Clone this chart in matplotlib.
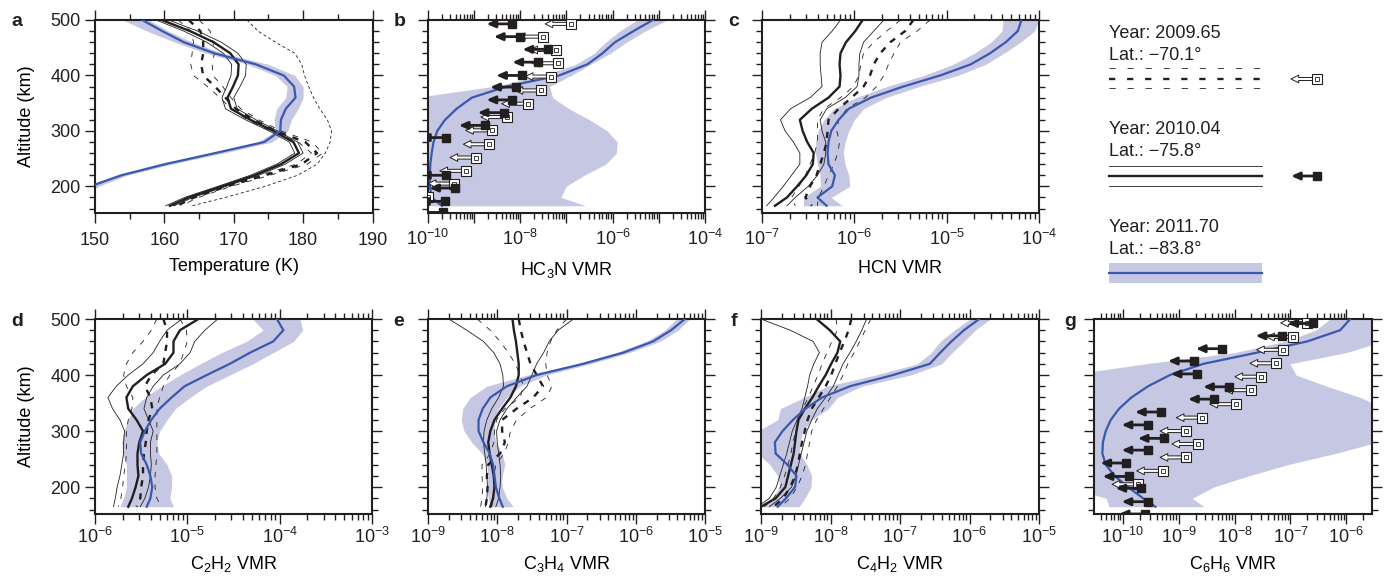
import numpy as np
import matplotlib
matplotlib.use("Agg")
import matplotlib.pyplot as plt
from matplotlib.patches import FancyArrowPatch
from matplotlib.ticker import MultipleLocator

INK = "#231f20"
BLUE = "#3a58ad"
BAND = "#c6c7e2"

plt.rcParams["font.family"] = ["Liberation Sans", "DejaVu Sans"]
plt.rcParams["mathtext.fontset"] = "custom"
plt.rcParams["mathtext.rm"] = "Liberation Sans"
plt.rcParams["mathtext.it"] = "Liberation Sans:italic"
plt.rcParams["mathtext.bf"] = "Liberation Sans:bold"
plt.rcParams["lines.scale_dashes"] = False
plt.rcParams["font.size"] = 13
plt.rcParams["text.color"] = INK

# altitude grid (km) shared by every profile
alt = [500, 480, 460, 440, 420, 400, 380, 360, 340, 320, 300, 280, 260, 240, 220, 200, 180, 165]

# a: temperature (K)
a_blue = [156.8, 159.7, 162.8, 167.2, 173.2, 177.2, 178.7, 178.9, 177.5, 176.8, 176.7, 174.4, 167.3, 160.1, 153.8, 149.3, 147.0, 145.0]
a_blue_lo = [154.0, 157.5, 161.5, 166.0, 172.0, 176.0, 177.7, 177.5, 176.2, 175.8, 176.0, 173.5, 166.5, 159.0, 153.0, 148.5, 146.0, 144.0]
a_blue_hi = [157.8, 160.6, 164.0, 168.5, 175.0, 178.8, 180.0, 180.0, 179.3, 178.3, 177.8, 175.5, 168.5, 161.0, 154.6, 150.5, 148.0, 146.0]
a_sol = [159.6, 163.7, 167.1, 169.5, 170.7, 170.6, 169.9, 169.1, 169.6, 172.4, 175.7, 178.6, 179.4, 176.8, 173.0, 168.3, 163.5, 160.8]
a_sol_lo = [158.8, 162.8, 166.1, 168.5, 169.7, 169.6, 169.0, 168.3, 168.8, 171.7, 175.1, 178.0, 178.8, 176.2, 172.4, 167.7, 162.9, 160.2]
a_sol_hi = [160.6, 164.8, 168.2, 170.6, 171.8, 171.7, 170.9, 170.0, 170.5, 173.2, 176.3, 179.2, 180.0, 177.4, 173.6, 168.9, 164.1, 161.4]
a_dash = [163.5, 165.2, 165.6, 165.6, 165.3, 165.6, 167.3, 168.8, 170.3, 172.8, 176.0, 180.3, 182.0, 179.8, 174.5, 169.0, 164.3, 161.8]
a_dash_lo = [162.0, 163.8, 164.2, 164.0, 163.8, 164.2, 166.2, 168.0, 169.6, 172.0, 175.2, 179.3, 181.2, 179.0, 173.8, 168.4, 163.7, 161.2]
a_dash_hi = [165.0, 166.6, 167.0, 167.2, 166.9, 167.0, 168.4, 169.6, 171.0, 173.6, 176.8, 181.3, 182.8, 180.6, 175.2, 169.6, 164.9, 162.4]
a_ref = [171.9, 173.5, 176.0, 178.8, 179.8, 180.2, 180.8, 181.5, 182.4, 183.5, 184.1, 183.9, 183.2, 182.0, 179.2, 174.5, 168.8, 164.0]

# b: HC3N, log10 VMR
b_blue = [-5.13, -5.55, -5.95, -6.22, -6.55, -7.16, -8.30, -9.05, -9.38, -9.63, -9.80, -9.88, -9.92, -9.95, -9.96, -9.96, -9.92, -9.70]
b_blue_lo = [-5.47, -5.85, -6.15, -6.40, -6.80, -7.50, -8.60, -10.3, -11.0, -11.0, -11.0, -11.0, -11.0, -11.0, -11.0, -11.0, -11.0, -11.0]
b_blue_hi = [-4.82, -5.30, -5.70, -6.05, -6.48, -6.90, -7.37, -7.30, -6.95, -6.50, -6.12, -5.90, -5.92, -6.15, -6.62, -7.01, -7.12, -6.58]
b_fill_alt = [493, 470, 447, 424, 400, 379, 356, 333, 310, 288, 220, 197, 173, 153]
b_fill_val = [-8.17, -8.01, -7.39, -7.61, -7.96, -8.09, -8.17, -8.36, -8.77, -9.61, -9.61, -9.41, -9.63, -9.68]
b_open_alt = [493, 470, 446, 422, 398, 373, 349, 325, 301, 276, 252, 228, 205, 181]
b_open_val = [-6.90, -7.50, -7.23, -7.18, -7.33, -7.55, -7.84, -8.29, -8.62, -8.67, -8.96, -9.18, -9.43, -9.99]

# c: HCN
c_blue = [-4.19, -4.23, -4.36, -4.53, -4.74, -5.07, -5.47, -5.82, -6.06, -6.17, -6.25, -6.28, -6.29, -6.28, -6.21, -6.24, -6.40, -6.30]
c_blue_lo = [-4.39, -4.40, -4.52, -4.70, -4.93, -5.25, -5.65, -5.98, -6.22, -6.33, -6.39, -6.42, -6.42, -6.40, -6.37, -6.37, -6.55, -6.55]
c_blue_hi = [-4.00, -4.05, -4.20, -4.38, -4.58, -4.88, -5.30, -5.66, -5.90, -6.00, -6.06, -6.10, -6.12, -6.10, -6.06, -6.05, -6.25, -6.13]
c_sol = [-5.91, -5.99, -6.09, -6.15, -6.16, -6.15, -6.16, -6.28, -6.46, -6.59, -6.56, -6.51, -6.44, -6.45, -6.52, -6.62, -6.73, -6.86]
c_sol_lo = [-6.15, -6.24, -6.35, -6.37, -6.37, -6.36, -6.35, -6.48, -6.69, -6.80, -6.75, -6.66, -6.59, -6.59, -6.68, -6.77, -6.87, -6.95]
c_sol_hi = [-5.68, -5.79, -5.90, -5.94, -5.95, -5.95, -5.97, -6.10, -6.30, -6.37, -6.35, -6.31, -6.31, -6.33, -6.40, -6.50, -6.64, -6.73]
c_dash = [-5.36, -5.45, -5.61, -5.72, -5.79, -5.83, -5.90, -6.03, -6.17, -6.28, -6.29, -6.30, -6.33, -6.37, -6.41, -6.48, -6.53, -6.46]
c_dash_lo = [-5.50, -5.65, -5.79, -5.90, -5.93, -5.95, -6.01, -6.15, -6.33, -6.40, -6.40, -6.40, -6.43, -6.48, -6.53, -6.60, -6.68, -6.64]
c_dash_hi = [-5.18, -5.32, -5.50, -5.57, -5.63, -5.68, -5.76, -5.88, -6.08, -6.17, -6.19, -6.16, -6.18, -6.22, -6.28, -6.33, -6.39, -6.40]

# d: C2H2
d_blue = [-4.03, -3.96, -4.07, -4.32, -4.54, -4.79, -5.03, -5.17, -5.30, -5.39, -5.46, -5.51, -5.50, -5.44, -5.40, -5.38, -5.40, -5.44]
d_blue_lo = [-4.29, -4.18, -4.36, -4.63, -4.86, -5.08, -5.28, -5.46, -5.59, -5.64, -5.69, -5.71, -5.70, -5.66, -5.66, -5.66, -5.69, -5.73]
d_blue_hi = [-3.78, -3.75, -3.85, -4.07, -4.29, -4.54, -4.79, -4.97, -5.13, -5.22, -5.30, -5.33, -5.31, -5.22, -5.17, -5.17, -5.19, -5.15]
d_sol = [-4.88, -5.08, -5.15, -5.15, -5.24, -5.44, -5.59, -5.66, -5.64, -5.55, -5.48, -5.52, -5.54, -5.54, -5.53, -5.56, -5.60, -5.64]
d_sol_lo = [-5.06, -5.22, -5.30, -5.37, -5.48, -5.64, -5.77, -5.86, -5.81, -5.73, -5.68, -5.69, -5.69, -5.71, -5.73, -5.76, -5.78, -5.80]
d_sol_hi = [-4.67, -4.81, -4.92, -4.97, -5.08, -5.26, -5.37, -5.44, -5.47, -5.42, -5.37, -5.40, -5.40, -5.39, -5.40, -5.42, -5.46, -5.51]
d_dash = [-5.26, -5.22, -5.22, -5.24, -5.26, -5.39, -5.46, -5.40, -5.38, -5.42, -5.44, -5.45, -5.47, -5.48, -5.48, -5.50, -5.51, -5.55]
d_dash_lo = [-5.33, -5.39, -5.48, -5.59, -5.66, -5.69, -5.66, -5.59, -5.60, -5.64, -5.66, -5.66, -5.66, -5.67, -5.69, -5.70, -5.72, -5.75]
d_dash_hi = [-5.08, -5.01, -5.00, -5.04, -5.08, -5.19, -5.26, -5.30, -5.33, -5.33, -5.33, -5.33, -5.33, -5.34, -5.35, -5.35, -5.33, -5.28]

# e: C3H4
e_blue = [-5.29, -5.49, -5.75, -6.18, -6.76, -7.43, -7.86, -8.10, -8.21, -8.27, -8.27, -8.20, -8.11, -8.06, -8.04, -8.02, -7.97, -7.92]
e_blue_lo = [-5.41, -5.58, -5.85, -6.28, -6.85, -7.57, -8.15, -8.39, -8.50, -8.52, -8.48, -8.37, -8.22, -8.15, -8.13, -8.15, -8.13, -8.10]
e_blue_hi = [-5.22, -5.39, -5.65, -6.09, -6.66, -7.29, -7.67, -7.86, -7.98, -8.04, -8.05, -8.02, -7.93, -7.89, -7.93, -7.93, -7.86, -7.77]
e_sol = [-7.78, -7.76, -7.73, -7.71, -7.69, -7.69, -7.73, -7.81, -7.93, -8.04, -8.10, -8.13, -8.11, -8.08, -8.05, -8.04, -8.06, -8.10]
e_sol_lo = [-8.70, -8.44, -8.20, -8.05, -7.96, -7.92, -7.91, -7.98, -8.08, -8.15, -8.19, -8.20, -8.18, -8.16, -8.15, -8.14, -8.15, -8.17]
e_sol_hi = [-6.90, -7.12, -7.25, -7.33, -7.43, -7.50, -7.57, -7.72, -7.86, -7.96, -8.01, -8.00, -7.98, -7.96, -7.95, -7.96, -7.98, -8.02]
e_dash = [-7.69, -7.66, -7.62, -7.57, -7.52, -7.43, -7.34, -7.48, -7.72, -7.93, -7.93, -7.89, -7.96, -8.13, -8.15, -8.14, -8.15, -8.17]
e_dash_lo = [-8.29, -8.10, -7.96, -7.84, -7.74, -7.67, -7.62, -7.67, -7.89, -8.01, -8.04, -8.05, -8.10, -8.22, -8.22, -8.21, -8.22, -8.24]
e_dash_hi = [-7.00, -7.14, -7.23, -7.28, -7.30, -7.28, -7.21, -7.29, -7.53, -7.72, -7.81, -7.84, -7.90, -8.02, -8.05, -8.05, -8.06, -8.08]

# f: C4H2
f_blue = [-5.86, -6.08, -6.26, -6.42, -6.57, -7.10, -7.72, -8.12, -8.36, -8.54, -8.69, -8.80, -8.79, -8.62, -8.49, -8.51, -8.64, -8.76]
f_blue_lo = [-5.99, -6.22, -6.42, -6.55, -6.75, -7.35, -8.05, -8.38, -8.72, -8.76, -9.05, -9.05, -9.05, -8.87, -8.76, -8.73, -8.84, -9.00]
f_blue_hi = [-5.70, -5.92, -6.08, -6.25, -6.40, -6.85, -7.55, -7.90, -8.03, -8.27, -8.40, -8.44, -8.44, -8.34, -8.27, -8.28, -8.37, -8.45]
f_sol = [-8.20, -8.01, -7.86, -7.90, -7.99, -8.07, -8.17, -8.26, -8.37, -8.46, -8.49, -8.51, -8.53, -8.57, -8.61, -8.65, -8.79, -9.00]
f_sol_lo = [-9.00, -8.58, -8.25, -8.16, -8.24, -8.30, -8.33, -8.37, -8.41, -8.48, -8.55, -8.59, -8.63, -8.68, -8.73, -8.78, -8.88, -9.05]
f_sol_hi = [-7.48, -7.55, -7.63, -7.72, -7.82, -7.89, -7.96, -8.07, -8.19, -8.27, -8.34, -8.38, -8.42, -8.46, -8.50, -8.56, -8.72, -8.88]
f_dash = [-7.70, -7.74, -7.80, -7.87, -7.93, -7.99, -8.07, -8.17, -8.27, -8.33, -8.37, -8.41, -8.44, -8.47, -8.51, -8.58, -8.68, -8.82]
f_dash_lo = [-7.92, -7.90, -7.98, -8.05, -8.12, -8.18, -8.25, -8.32, -8.40, -8.46, -8.50, -8.54, -8.57, -8.61, -8.66, -8.72, -8.82, -8.95]
f_dash_hi = [-7.42, -7.50, -7.58, -7.66, -7.75, -7.82, -7.90, -8.00, -8.10, -8.20, -8.27, -8.30, -8.33, -8.36, -8.41, -8.48, -8.58, -8.72]

# g: C6H6
g_blue = [-5.93, -6.11, -6.70, -7.60, -8.56, -9.16, -9.55, -9.85, -10.07, -10.22, -10.31, -10.36, -10.37, -10.31, -10.15, -9.91, -9.64, -9.42]
g_blue_lo = [-6.29, -6.55, -7.10, -8.00, -9.60, -11.0, -11.0, -11.0, -11.0, -11.0, -11.0, -11.0, -11.0, -11.0, -11.0, -11.0, -10.3, -10.25]
g_blue_hi = [-5.30, -5.30, -5.35, -6.00, -7.01, -6.90, -6.35, -5.75, -5.30, -5.30, -5.30, -5.45, -6.20, -7.05, -7.75, -8.38, -8.76, -8.55]
g_fill_alt = [492, 470, 447, 425, 402, 379, 357, 334, 311, 287, 266, 243, 219, 198, 174, 152]
g_fill_val = [-6.59, -7.16, -8.23, -8.73, -8.68, -8.10, -8.37, -9.32, -9.56, -9.27, -9.56, -9.94, -9.90, -9.67, -9.56, -9.61]
g_open_alt = [493, 468, 445, 421, 397, 373, 348, 324, 300, 277, 253, 229, 205]
g_open_val = [-6.71, -6.96, -7.14, -7.26, -7.53, -7.71, -7.98, -8.58, -8.87, -8.66, -8.87, -9.29, -9.73]

leg_year = ["2009.65", "2010.04", "2011.70"]
leg_lat = ["\u221270.1\u00b0", "\u221275.8\u00b0", "\u221283.8\u00b0"]

W, H = 1388, 577
fig = plt.figure(figsize=(W / 100, H / 100), dpi=100)


def box(l, r, t, b):
    return [l / W, 1 - b / H, (r - l) / W, (b - t) / H]


def exp10(v, log):
    return 10.0 ** np.asarray(v) if log else np.asarray(v)


def panel(rect, xlim, label, letter, log=True, step=1, ylab=False, bottom=False):
    ax = fig.add_axes(rect)
    ax.set_ylim(152, 500)
    if log:
        ax.set_xscale("log")
        ax.set_xlim(10.0 ** xlim[0], 10.0 ** xlim[1])
        # only ticks inside the view, so no hidden labels are left outside it
        dec = np.arange(np.ceil(xlim[0] - 1e-9), np.floor(xlim[1] + 1e-9) + 1).astype(int)
        ax.set_xticks(10.0 ** dec, [r"$10^{%d}$" % d if d % step == 0 else "" for d in dec])
        minors = [m * 10.0 ** d for d in range(int(np.floor(xlim[0])), int(np.ceil(xlim[1])))
                  for m in range(2, 10) if xlim[0] <= np.log10(m) + d <= xlim[1]]
        ax.set_xticks(minors, minor=True)
        ax.set_xticklabels([], minor=True)
    else:
        ax.set_xlim(*xlim)
        ax.xaxis.set_major_locator(MultipleLocator(10))
        ax.xaxis.set_minor_locator(MultipleLocator(5))
    ax.yaxis.set_major_locator(MultipleLocator(100))
    ax.yaxis.set_minor_locator(MultipleLocator(20))
    ax.tick_params(which="both", direction="out", top=True, right=True, width=1.0,
                   color=INK, labelcolor=INK, labelsize=13)
    ax.tick_params(which="major", length=7.5)
    ax.tick_params(which="minor", length=4.2)
    xpad = 1.5 if bottom else (4 if log else 6)
    ax.tick_params(axis="x", which="major", pad=xpad)
    ax.tick_params(axis="y", which="major", pad=3, labelleft=ylab)
    for s in ax.spines.values():
        s.set_linewidth(1.5)
        s.set_color(INK)
    ax.set_xlabel(label, fontsize=13, labelpad=5 if bottom else (8 if log else 7))
    if ylab:
        ax.set_ylabel("Altitude (km)", fontsize=13, labelpad=11)
    pos = ax.get_position()
    fig.text(letter[1] / W, pos.y1 - 2 / H, letter[0], fontsize=14, fontweight="bold",
             ha="center", va="center")
    return ax


def band(ax, mid, lo, hi, log=True):
    ax.fill_betweenx(alt, exp10(lo, log), exp10(hi, log), color=BAND, lw=0, zorder=1)
    ax.plot(exp10(mid, log), alt, color=BLUE, lw=1.6, zorder=4)


def lines(ax, mid, lo, hi, dashed, log=True):
    thick = dict(dashes=(4.5, 5.0)) if dashed else {}
    thin = dict(dashes=(4.0, 5.0)) if dashed else {}
    ax.plot(exp10(mid, log), alt, color=INK, lw=1.7, zorder=3, **thick)
    for e in (lo, hi):
        ax.plot(exp10(e, log), alt, color=INK, lw=0.6, zorder=3, **thin)


ARROW_PX = 26


def limits(ax, alts, vals, filled, log=True):
    for h, v in zip(alts, vals):
        x = 10.0 ** v if log else v
        px, py = ax.transData.transform((x, h))
        tip = ax.transData.inverted().transform((px - ARROW_PX, py))
        if filled:
            ax.add_patch(FancyArrowPatch((x, h), tuple(tip),
                         arrowstyle="-|>,head_length=0.5,head_width=0.22",
                         mutation_scale=10, lw=2.0, color=INK,
                         shrinkA=0, shrinkB=0, zorder=6))
            ax.plot(x, h, "s", ms=5.5, color=INK, zorder=7)
        else:
            ax.add_patch(FancyArrowPatch((x, h), tuple(tip),
                         arrowstyle="simple,head_length=0.55,head_width=0.55,tail_width=0.22",
                         mutation_scale=10, fc="white", ec=INK, lw=0.7,
                         shrinkA=0, shrinkB=0, zorder=5))
            ax.plot(x, h, "s", ms=6.5, mfc="white", mec=INK, mew=0.8, zorder=5.5)
            ax.plot(x, h, "s", ms=2.5, mfc="none", mec=INK, mew=0.6, zorder=5.6)


# top row
ax = panel(box(95, 372.5, 20, 213), (150, 190), "Temperature (K)", ("a", 17), log=False, ylab=True)
band(ax, a_blue, a_blue_lo, a_blue_hi, log=False)
lines(ax, a_sol, a_sol_lo, a_sol_hi, False, log=False)
lines(ax, a_dash, a_dash_lo, a_dash_hi, True, log=False)
ax.plot(a_ref, alt, color=INK, lw=0.6, dashes=(2.2, 1.8), zorder=3)

ax = panel(box(428, 705, 20, 213), (-10, -4), r"HC$_3$N VMR", ("b", 400), step=2)
band(ax, b_blue, b_blue_lo, b_blue_hi)
limits(ax, b_open_alt, b_open_val, False)
limits(ax, b_fill_alt, b_fill_val, True)

ax = panel(box(762, 1039, 20, 213), (-7, -4), "HCN VMR", ("c", 734))
band(ax, c_blue, c_blue_lo, c_blue_hi)
lines(ax, c_sol, c_sol_lo, c_sol_hi, False)
lines(ax, c_dash, c_dash_lo, c_dash_hi, True)

# bottom row
ax = panel(box(95, 372, 319, 514), (-6, -3), r"C$_2$H$_2$ VMR", ("d", 17), ylab=True, bottom=True)
band(ax, d_blue, d_blue_lo, d_blue_hi)
lines(ax, d_sol, d_sol_lo, d_sol_hi, False)
lines(ax, d_dash, d_dash_lo, d_dash_hi, True)

ax = panel(box(428, 705, 319, 514), (-9, -5), r"C$_3$H$_4$ VMR", ("e", 399), bottom=True)
band(ax, e_blue, e_blue_lo, e_blue_hi)
lines(ax, e_sol, e_sol_lo, e_sol_hi, False)
lines(ax, e_dash, e_dash_lo, e_dash_hi, True)

ax = panel(box(761, 1039, 319, 514), (-9, -5), r"C$_4$H$_2$ VMR", ("f", 734), bottom=True)
band(ax, f_blue, f_blue_lo, f_blue_hi)
lines(ax, f_sol, f_sol_lo, f_sol_hi, False)
lines(ax, f_dash, f_dash_lo, f_dash_hi, True)

ax = panel(box(1094, 1372, 319, 514), (-10.52, -5.54), r"C$_6$H$_6$ VMR", ("g", 1070), bottom=True)
band(ax, g_blue, g_blue_lo, g_blue_hi)
limits(ax, g_open_alt, g_open_val, False)
limits(ax, g_fill_alt, g_fill_val, True)

# legend, drawn in pixel coordinates
lg = fig.add_axes([0, 0, 1, 1], zorder=-1)
lg.set_xlim(0, W)
lg.set_ylim(H, 0)
lg.axis("off")
for i, (yr, lat) in enumerate(zip(leg_year, leg_lat)):
    y0 = 33 + 97 * i
    lg.text(1109, y0, "Year: " + yr, fontsize=13, va="center")
    lg.text(1109, y0 + 22, "Lat.: " + lat, fontsize=13, va="center")
xs = [1109, 1262]
lg.plot(xs, [68, 68], color=INK, lw=0.6, dashes=(4.5, 8.5))
lg.plot(xs, [79, 79], color=INK, lw=1.7, dashes=(4.5, 8.5))
lg.plot(xs, [88, 88], color=INK, lw=0.6, dashes=(4.5, 8.5))
limits(lg, [79], [1317], False, log=False)
lg.plot(xs, [166, 166], color=INK, lw=0.6)
lg.plot(xs, [176, 176], color=INK, lw=1.7)
lg.plot(xs, [186, 186], color=INK, lw=0.6)
limits(lg, [176], [1317], True, log=False)
lg.fill_between(xs, [263, 263], [283, 283], color=BAND, lw=0)
lg.plot(xs, [273, 273], color=BLUE, lw=1.6)

fig.savefig("out.png", dpi=100)
